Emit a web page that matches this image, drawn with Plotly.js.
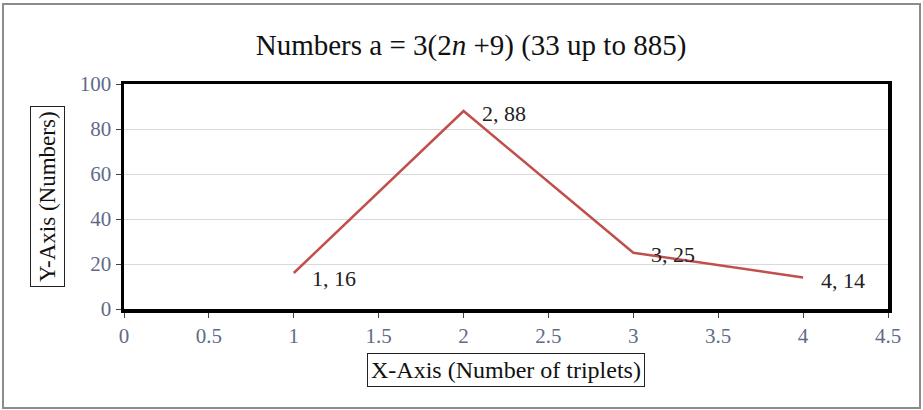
<!DOCTYPE html>
<html>
<head>
<meta charset="utf-8">
<script src="https://cdn.plot.ly/plotly-3.0.1.min.js"></script>
<style>html,body{margin:0;padding:0;background:#fff;}#chart{width:923px;height:410px;}</style>
</head>
<body>
<div id="chart"></div>
<script>
const xValues = [1, 2, 3, 4];
const yValues = [16, 88, 25, 14];
const pointLabels = ["1, 16", "2, 88", "3, 25", "4, 14"];
const labelShiftY = [-5, -2, -2, -3];
const xTicks = [0, 0.5, 1, 1.5, 2, 2.5, 3, 3.5, 4, 4.5];
const yTicks = [0, 20, 40, 60, 80, 100];

const serif = "Liberation Serif, Times New Roman, serif";
const tickColor = "#5f6b87";

const trace = {
  x: xValues, y: yValues, type: "scatter", mode: "lines",
  line: {color: "#c0504d", width: 2.5}, hoverinfo: "skip"
};

const annotations = pointLabels.map((t, i) => ({
  x: xValues[i], y: yValues[i], xref: "x", yref: "y", text: t,
  showarrow: false, xanchor: "left", yanchor: "middle",
  xshift: 16, yshift: labelShiftY[i],
  font: {family: serif, size: 22, color: "#222"}
}));

// plot area: x 124..888, y 84..309
const W = 923, H = 410, L = 124, R = 35, T = 84, B = 101;
const pw = W - L - R, ph = H - T - B;
const px = v => (v - L) / pw;
const py = v => (H - B - v) / ph;

annotations.push({
  xref: "paper", yref: "paper", x: px(47), y: py(197), text: "Y-Axis (Numbers)",
  textangle: -90, showarrow: false, xanchor: "center", yanchor: "middle",
  font: {family: serif, size: 23, color: "#111"},
  bordercolor: "#222", borderwidth: 1, borderpad: 4, bgcolor: "#fff"
});
annotations.push({
  xref: "paper", yref: "paper", x: px(506), y: py(370), text: "X-Axis (Number of triplets)",
  showarrow: false, xanchor: "center", yanchor: "middle",
  font: {family: serif, size: 24, color: "#111"},
  bordercolor: "#222", borderwidth: 1, borderpad: 3, bgcolor: "#fff"
});

const layout = {
  width: W, height: H,
  margin: {l: L, r: R, t: T, b: B},
  paper_bgcolor: "#fff", plot_bgcolor: "#fff",
  showlegend: false,
  title: {
    text: "Numbers a = 3(2<i>n</i> +9) (33 up to 885)",
    font: {family: serif, size: 29, color: "#111"},
    x: px(471), xref: "paper", y: 1 - 45 / H, yref: "container",
    xanchor: "center", yanchor: "middle"
  },
  xaxis: {
    range: [0, 4.5], tickvals: xTicks, ticktext: xTicks.map(String),
    showgrid: false, zeroline: false,
    showline: true, mirror: true, linecolor: "#000", linewidth: 3.5,
    ticks: "outside", ticklen: 5, tickcolor: "#444", tickwidth: 1,
    tickfont: {family: serif, size: 21, color: tickColor},
    fixedrange: true
  },
  yaxis: {
    range: [0, 100], tickvals: yTicks, ticktext: yTicks.map(String),
    showgrid: true, gridcolor: "#d9d9d9", gridwidth: 1, zeroline: false,
    showline: true, mirror: true, linecolor: "#000", linewidth: 3.5,
    ticks: "outside", ticklen: 5, tickcolor: "#444", tickwidth: 1,
    tickfont: {family: serif, size: 21, color: tickColor},
    fixedrange: true
  },
  annotations: annotations,
  shapes: [{
    type: "rect", xref: "paper", yref: "paper",
    x0: px(3), x1: px(920), y0: py(408), y1: py(4),
    line: {color: "#8c8c8c", width: 2}, fillcolor: "rgba(0,0,0,0)", layer: "below"
  }]
};

Plotly.newPlot("chart", [trace], layout, {displayModeBar: false, staticPlot: true});
</script>
</body>
</html>
